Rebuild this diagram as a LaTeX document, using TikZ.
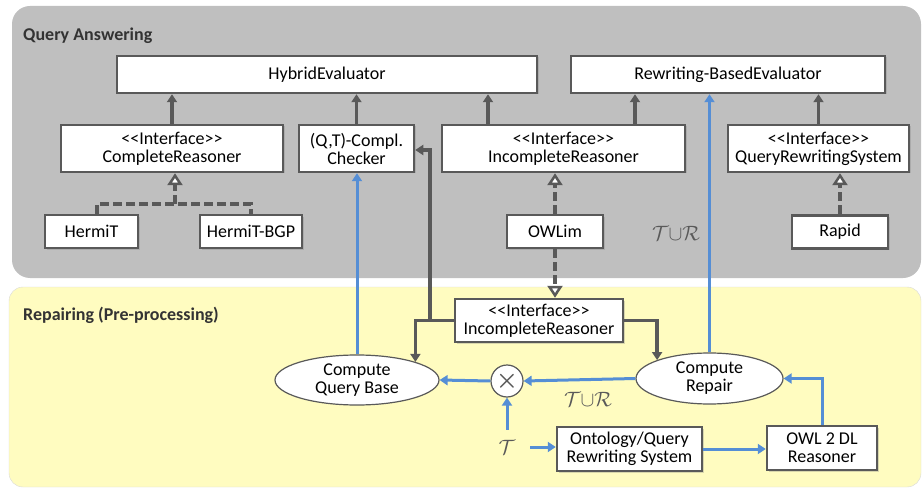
\documentclass[tikz,border=0pt]{standalone}
\usepackage{fontspec}
\setmainfont{Carlito}
\usetikzlibrary{arrows.meta,shapes.geometric,shadows}
\definecolor{linegray}{HTML}{595959}
\definecolor{regiongray}{HTML}{BFBFBF}
\definecolor{regionyellow}{HTML}{FFFCC0}
\definecolor{flowblue}{HTML}{558ED5}
\newcommand{\iface}{\mbox{<}\mbox{<}Interface\mbox{>}\mbox{>}}

\begin{document}
\begin{tikzpicture}[x=1pt,y=-1pt,
    box/.style={draw=linegray,line width=2.5pt,fill=white,inner sep=0pt,align=center,
      font=\fontsize{18pt}{18pt}\selectfont,
      drop shadow={shadow xshift=1.5pt,shadow yshift=-1.5pt,opacity=.3}},
    oval/.style={ellipse,draw=linegray,line width=1.2pt,fill=white,inner sep=0pt,align=center,
      font=\fontsize{18pt}{18pt}\selectfont},
    title/.style={anchor=west,inner sep=0pt,font=\fontsize{18pt}{18pt}\selectfont\bfseries,text=black!80},
    lbl/.style={inner sep=0pt,text=linegray,font=\fontsize{22pt}{22pt}\selectfont},
    garrow/.style={draw=linegray,line width=3.5pt,-{Triangle[length=8pt,width=10pt]}},
    dashline/.style={draw=linegray,line width=3.5pt,dash pattern=on 9pt off 4pt},
    realize/.style={dashline,-{Triangle[open,fill=white,line width=2.5pt,length=12pt,width=15pt]}},
    barrow/.style={draw=flowblue,line width=3pt,-{Triangle[length=8pt,width=10pt]}}]
  \useasboundingbox (0,0) rectangle (923,489);
  % regions
  \fill[regiongray,rounded corners=18pt] (12,6) rectangle (921,278);
  \filldraw[fill=regionyellow,draw=black!15,rounded corners=14pt] (9,287) rectangle (921,487);
  \node[title] (qa) at (23,36) {Query Answering};
  \node[title] (rp) at (23,315) {Repairing (Pre-processing)};

  % query answering
  \node[box,minimum width=420pt,minimum height=37pt] (he) at (327,74.5) {HybridEvaluator};
  \node[box,minimum width=314pt,minimum height=37pt] (rbe) at (728,74.5) {Rewriting-BasedEvaluator};
  \node[box,minimum width=222pt,minimum height=47pt] (cr) at (172,148.5) {\iface\\CompleteReasoner};
  \node[box,minimum width=115pt,minimum height=47pt] (chk) at (356.5,148.5) {(Q,T)-Compl.\\Checker};
  \node[box,minimum width=243pt,minimum height=47pt] (ir) at (563.5,148.5) {\iface\\IncompleteReasoner};
  \node[box,minimum width=181pt,minimum height=47pt] (qrs) at (818.5,148.5) {\iface\\QueryRewritingSystem};
  \node[box,minimum width=93pt,minimum height=33pt] (ht) at (91.5,231.5) {HermiT};
  \node[box,minimum width=102pt,minimum height=33pt] (htb) at (251,231.5) {HermiT-BGP};
  \node[box,minimum width=96pt,minimum height=33pt] (owl) at (555,231.5) {OWLim};
  \node[box,minimum width=96pt,minimum height=33pt] (rap) at (840,232) {Rapid};
  \node[lbl] (tur1) at (676,233) {$\mathcal{T}{\cup}\mathcal{R}$};

  % repairing
  \node[box,minimum width=168pt,minimum height=43pt] (ir2) at (539,320.5) {\iface\\IncompleteReasoner};
  \node[oval,minimum width=164pt,minimum height=50pt] (cqb) at (357,380) {Compute\\Query Base};
  \node[oval,minimum width=147pt,minimum height=51pt] (crep) at (709.5,378.5) {Compute\\Repair};
  \node[circle,draw=linegray,fill=white,line width=1.2pt,minimum size=32pt,inner sep=0pt,
    text=linegray,font=\fontsize{24pt}{24pt}\selectfont\boldmath] (ox) at (507,381) {$\times$};
  \node[lbl] (tur2) at (588,399) {$\mathcal{T}{\cup}\mathcal{R}$};
  \node[lbl,minimum width=46pt,minimum height=34pt] (tee) at (507,447) {$\mathcal{T}$};
  \node[box,minimum width=145pt,minimum height=44pt] (oqrs) at (629.5,449) {Ontology/Query\\Rewriting System};
  \node[box,minimum width=110pt,minimum height=44pt] (dl) at (822,448) {OWL 2 DL\\Reasoner};

  % generalisation
  \draw[garrow] (cr.north) -- (cr.north |- he.south);
  \draw[garrow] (chk.north) -- (chk.north |- he.south);
  \draw[garrow] ([xshift=-75.5pt]ir.north) -- ([xshift=-75.5pt]ir.north |- he.south);
  \draw[garrow] ([xshift=71.5pt]ir.north) -- ([xshift=71.5pt]ir.north |- rbe.south);
  \draw[garrow] (qrs.north) -- (qrs.north |- rbe.south);

  % realisation
  \coordinate (jn) at (175,204);
  \draw[dashline] ([xshift=5.5pt]ht.north) |- (jn) -| (htb.north);
  \draw[realize] (jn) -- (jn |- cr.south);
  \draw[realize] (owl.north) -- (owl.north |- ir.south);
  \draw[realize] (rap.north) -- (rap.north |- qrs.south);
  \draw[realize] (owl.south) -- (owl.south |- ir2.north);

  % incomplete reasoner use
  \coordinate (sp) at (430,320.5);
  \draw[garrow] (ir2.west) -- (sp) |- ([yshift=-1.5pt]chk.east);
  \draw[garrow] (sp) -| (cqb.north east);
  \draw[garrow] (ir2.east) -| (crep.north west);

  % data flow
  \draw[barrow] (cqb.north) -- (cqb.north |- chk.south);
  \draw[barrow] (crep.north) -- (crep.north |- rbe.south);
  \draw[barrow] (crep.west) -- (ox.east);
  \draw[barrow] (ox.west) -- (cqb.east);
  \draw[barrow] (tee.north) -- (ox.south);
  \draw[barrow] (tee.east) -- (tee.east -| oqrs.west);
  \draw[barrow] (oqrs.east) -- (oqrs.east -| dl.west);
  \draw[barrow] (dl.north) |- (crep.east);
\end{tikzpicture}
\end{document}
